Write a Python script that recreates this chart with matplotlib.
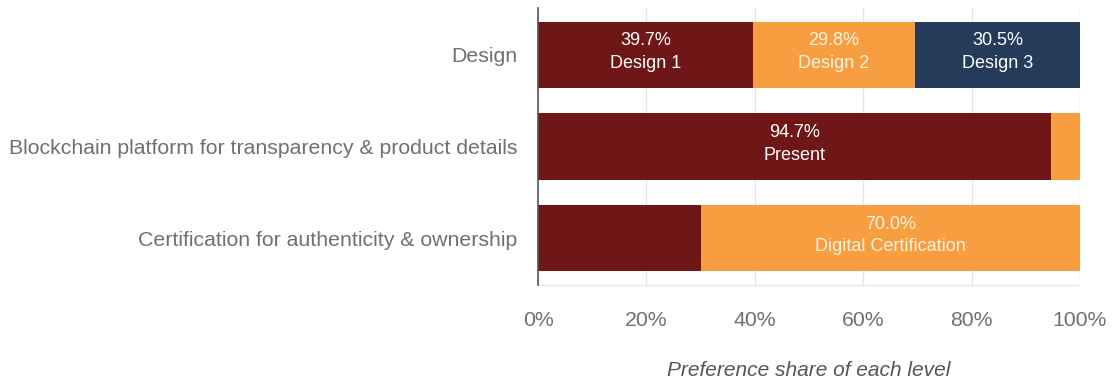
import matplotlib
matplotlib.use("Agg")
import matplotlib.pyplot as plt

categories = ["Design",
              "Blockchain platform for transparency & product details",
              "Certification for authenticity & ownership"]
# segments per category
seg_values = [[39.7, 29.8, 30.5],
              [94.7, 5.3],
              [30.0, 70.0]]
seg_labels = [["Design 1", "Design 2", "Design 3"],
              ["Present", None],
              [None, "Digital Certification"]]
seg_colors_idx = [[0, 1, 2], [0, 1], [0, 1]]
palette = ["#6E1716", "#F69E40", "#253B5A"]
text_colors = ["#FFFFFF", "#FFF3E3", "#FFFFFF"]
xticks = [0, 20, 40, 60, 80, 100]
xtick_labels = ["0%", "20%", "40%", "60%", "80%", "100%"]
xlabel = "Preference share of each level"

plt.rcParams['font.family'] = ['Liberation Sans', 'DejaVu Sans']

fig = plt.figure(figsize=(11.14, 3.92), dpi=100)
ax = fig.add_axes([538/1114, 1-285/392, (1080-538)/1114, (285-8)/392])

for i, (vals, labs, cidx) in enumerate(zip(seg_values, seg_labels, seg_colors_idx)):
    left = 0
    for v, lab, c in zip(vals, labs, cidx):
        ax.barh(i, v, left=left, height=0.72, color=palette[c], zorder=3)
        if lab is not None:
            ax.text(left + v/2, i - 0.03, f"{v:.1f}%\n{lab}", ha="center", va="center",
                    color=text_colors[c], fontsize=13, linespacing=1.45, zorder=4)
        left += v

ax.set_xlim(0, 100)
ax.set_ylim(2.51, -0.51)
ax.set_yticks(range(len(categories)))
ax.set_yticklabels(categories)
ax.set_xticks(xticks)
ax.set_xticklabels(xtick_labels)
ax.tick_params(axis="y", length=0, pad=15, labelsize=15.3, labelcolor="#707070")
ax.tick_params(axis="x", length=0, pad=19, labelsize=15.3, labelcolor="#707070")
ax.grid(axis="x", color="#E6E6E6", linewidth=1, zorder=0)
for s in ["top", "right"]:
    ax.spines[s].set_visible(False)
ax.spines["bottom"].set_color("#E6E6E6")
ax.spines["left"].set_color("#555555")
ax.spines["left"].set_linewidth(1.2)
ax.spines["left"].set_zorder(5)
ax.set_xlabel(xlabel, fontsize=15, style="italic", color="#555555", labelpad=22)

fig.savefig("out.png", dpi=100)
